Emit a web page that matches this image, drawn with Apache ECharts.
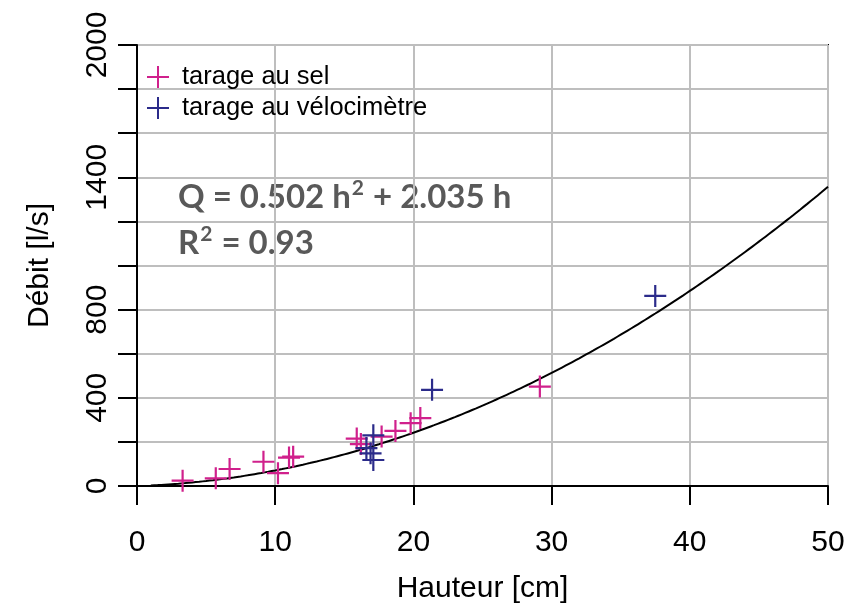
<!DOCTYPE html>
<html>
<head>
<meta charset="utf-8">
<script src="https://cdn.jsdelivr.net/npm/echarts@6/dist/echarts.min.js"></script>
<style>html,body{margin:0;padding:0;background:#fff}#c{width:858px;height:605px}</style>
</head>
<body>
<div id="c"></div>
<script>
// Data
var selH = [3.3, 5.7, 6.7, 9.15, 10.2, 11.0, 11.3, 15.9, 16.2, 17.7, 18.7, 19.8, 20.5, 29.15];
var selQ = [24, 35, 77, 110, 58, 129, 133, 215, 190, 224, 250, 285, 308, 451];
var veloH = [16.6, 16.9, 17.1, 17.1, 21.35, 37.5];
var veloQ = [172, 148, 118, 230, 436, 862];
// Fit coefficients shown on the chart: Q = a h^2 + b h
var fitCoef = [0.502, 2.035];
var fitRange = [1, 50];
var xTicks = [0, 10, 20, 30, 40, 50];
var yLabels = [0, 400, 800, 1400, 2000];
var seriesNames = ['tarage au sel', 'tarage au vélocimètre'];

function pairs(a, b) { return a.map(function (v, i) { return [v, b[i]]; }); }
var fit = [];
for (var h = fitRange[0]; h <= fitRange[1] + 1e-9; h += 0.5) {
  fit.push([h, fitCoef[0] * h * h + fitCoef[1] * h]);
}

var plus = 'path://M-10,0L10,0M0,-10L0,10';
var magenta = '#d0208c';
var navy = '#2b2b8a';
var font = 'Liberation Sans, Arial, sans-serif';

var chart = echarts.init(document.getElementById('c'));
chart.setOption({
  animation: false,
  grid: { left: 137, right: 30, top: 45, bottom: 119, show: true, borderColor: '#000', borderWidth: 2, backgroundColor: 'transparent', containLabel: false, outerBoundsMode: 'none' },
  xAxis: {
    type: 'value', min: xTicks[0], max: xTicks[xTicks.length - 1], interval: 10,
    name: 'Hauteur [cm]', nameLocation: 'middle', nameGap: 88,
    nameTextStyle: { fontFamily: font, fontSize: 30, color: '#000' },
    axisLine: { show: true, lineStyle: { color: '#000', width: 2 } },
    axisTick: { show: true, length: 19, lineStyle: { color: '#000', width: 2 } },
    axisLabel: { fontFamily: font, fontSize: 30, color: '#000', margin: 42 },
    splitLine: { show: true, lineStyle: { color: '#bebebe', width: 2 } }
  },
  yAxis: {
    type: 'value', min: 0, max: 2000, interval: 200,
    name: 'Débit [l/s]', nameLocation: 'middle', nameGap: 82, nameRotate: 90,
    nameTextStyle: { fontFamily: font, fontSize: 30, color: '#000' },
    axisLine: { show: true, lineStyle: { color: '#000', width: 2 } },
    axisTick: { show: true, length: 19, lineStyle: { color: '#000', width: 2 } },
    axisLabel: {
      fontFamily: font, fontSize: 30, color: '#000', margin: 24, rotate: 90,
      formatter: function (v) { return yLabels.indexOf(v) >= 0 ? String(v) : ''; }
    },
    splitLine: { show: true, lineStyle: { color: '#bebebe', width: 2 } }
  },
  legend: {
    left: 146, top: 64, orient: 'vertical', itemGap: 5, itemWidth: 22, itemHeight: 22,
    padding: 0,
    textStyle: { fontFamily: font, fontSize: 25.5, color: '#000', padding: [0, 0, 0, 8] },
    data: [
      { name: seriesNames[0], icon: plus, itemStyle: { color: 'transparent', borderColor: magenta, borderWidth: 2, opacity: 1 } },
      { name: seriesNames[1], icon: plus, itemStyle: { color: 'transparent', borderColor: navy, borderWidth: 2, opacity: 1 } }
    ]
  },
  graphic: [{
    type: 'text', left: 178, top: 178,
    style: {
      text: '{t|Q = 0.502 h}{s|2}{t| + 2.035 h}\n{t|R}{s|2}{t| = 0.93}',
      rich: {
        t: { fontFamily: 'Lato, sans-serif', fontWeight: 'bold', fontSize: 33, fill: '#595959', lineHeight: 46 },
        s: { fontFamily: 'Lato, sans-serif', fontWeight: 'bold', fontSize: 21, fill: '#595959', lineHeight: 46, padding: [0, 1, 18, 1] }
      }
    }
  }],
  series: [
    {
      name: 'fit', type: 'line', data: fit, showSymbol: false, smooth: true,
      lineStyle: { color: '#000', width: 2 }, z: 3, silent: true
    },
    {
      name: seriesNames[0], type: 'scatter', data: pairs(selH, selQ), symbol: plus, symbolSize: 22,
      itemStyle: { color: 'transparent', borderColor: magenta, borderWidth: 2.2, opacity: 1 }, z: 4
    },
    {
      name: seriesNames[1], type: 'scatter', data: pairs(veloH, veloQ), symbol: plus, symbolSize: 22,
      itemStyle: { color: 'transparent', borderColor: navy, borderWidth: 2.2, opacity: 1 }, z: 4
    }
  ]
});
</script>
</body>
</html>
